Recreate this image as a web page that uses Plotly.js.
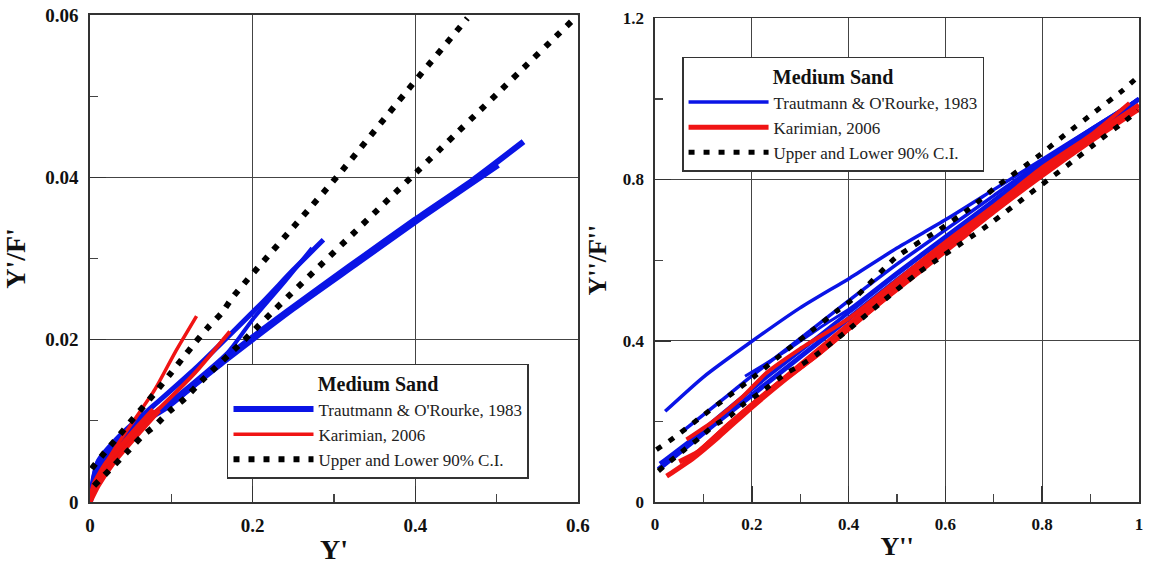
<!DOCTYPE html>
<html>
<head>
<meta charset="utf-8">
<script src="https://cdn.plot.ly/plotly-3.0.1.min.js"></script>
<style>html,body{margin:0;padding:0;background:#fff;}#chart{width:1149px;height:565px;}</style>
</head>
<body>
<div id="chart"></div>
<script>
// ---------- Left panel: Y' vs Y'/F' ----------
const leftBlueA_x = [0, 0.005, 0.01, 0.04, 0.096, 0.17, 0.24, 0.32, 0.4, 0.47, 0.533];
const leftBlueA_y = [0, 0.003, 0.0048, 0.0083, 0.0118, 0.018, 0.0233, 0.0291, 0.0348, 0.0396, 0.0444];
const leftBlueA2_x = [0, 0.01, 0.05, 0.1, 0.17, 0.25, 0.33, 0.41, 0.502];
const leftBlueA2_y = [0, 0.0042, 0.0088, 0.0122, 0.0177, 0.0238, 0.0295, 0.0352, 0.0415];
const leftBlueB_x = [0, 0.01, 0.04, 0.082, 0.13, 0.178, 0.215, 0.25, 0.287];
const leftBlueB_y = [0, 0.005, 0.0085, 0.0122, 0.0165, 0.0212, 0.0249, 0.0286, 0.0323];
const leftBlueB2_x = [0, 0.01, 0.05, 0.1, 0.17, 0.2, 0.24, 0.273];
const leftBlueB2_y = [0, 0.0045, 0.009, 0.0125, 0.0185, 0.0225, 0.0272, 0.0313];
const leftRed1_x = [0, 0.01, 0.03, 0.055, 0.08, 0.105, 0.131];
const leftRed1_y = [0, 0.003, 0.0065, 0.0102, 0.0139, 0.0185, 0.0229];
const leftRed2_x = [0, 0.01, 0.03, 0.06, 0.088, 0.129, 0.172];
const leftRed2_y = [0, 0.0025, 0.0055, 0.0092, 0.0118, 0.0159, 0.021];
const leftRed3_x = [0, 0.01, 0.03, 0.06, 0.085];
const leftRed3_y = [0, 0.002, 0.005, 0.0085, 0.0113];
const leftRed4_x = [0, 0.005, 0.02, 0.05, 0.078];
const leftRed4_y = [0, 0.0022, 0.0048, 0.0083, 0.0114];
const leftUpperCI_x = [0.002, 0.018, 0.035, 0.049, 0.066, 0.082, 0.098, 0.113, 0.129, 0.145, 0.162, 0.176, 0.303, 0.4, 0.464];
const leftUpperCI_y = [0.0041, 0.0061, 0.0081, 0.0098, 0.0118, 0.0137, 0.0157, 0.0176, 0.0196, 0.0215, 0.0233, 0.0253, 0.04, 0.0519, 0.0596];
const leftLowerCI_x = [0.005, 0.045, 0.064, 0.08, 0.098, 0.117, 0.137, 0.188, 0.207, 0.223, 0.4, 0.6];
const leftLowerCI_y = [0.002, 0.0061, 0.0081, 0.0094, 0.0112, 0.0128, 0.0149, 0.0198, 0.0217, 0.0233, 0.0405, 0.06];

// ---------- Right panel: Y'' vs Y''/F'' ----------
const rightBlue1_x = [0.021, 0.1, 0.196, 0.299, 0.403, 0.5, 0.6, 0.7, 0.8, 0.9, 1.0];
const rightBlue1_y = [0.225, 0.31, 0.395, 0.481, 0.556, 0.63, 0.70, 0.775, 0.85, 0.925, 1.0];
const rightBlue2_x = [0.062, 0.148, 0.2, 0.279, 0.403, 0.5, 0.6, 0.7, 0.8, 0.9, 1.0];
const rightBlue2_y = [0.18, 0.262, 0.313, 0.386, 0.502, 0.59, 0.675, 0.76, 0.845, 0.925, 1.0];
const rightBlue3_x = [0.186, 0.265, 0.35, 0.403, 0.5, 0.6, 0.7, 0.8, 0.9, 1.0];
const rightBlue3_y = [0.312, 0.37, 0.44, 0.48, 0.57, 0.66, 0.75, 0.84, 0.92, 1.0];
const rightBlue4_x = [0.007, 0.058, 0.12, 0.2, 0.3, 0.4, 0.5, 0.6, 0.7, 0.8, 0.9, 1.0];
const rightBlue4_y = [0.081, 0.13, 0.19, 0.265, 0.36, 0.455, 0.55, 0.64, 0.73, 0.825, 0.91, 1.0];
const rightBlue5_x = [0.01, 0.07, 0.15, 0.231, 0.3, 0.4, 0.5, 0.6, 0.7, 0.8, 0.9, 1.0];
const rightBlue5_y = [0.095, 0.15, 0.23, 0.31, 0.375, 0.47, 0.565, 0.655, 0.745, 0.835, 0.915, 1.0];
const rightRed1_x = [0.024, 0.08, 0.13, 0.2, 0.27, 0.34, 0.4, 0.5, 0.6, 0.7, 0.8, 0.9, 1.0];
const rightRed1_y = [0.064, 0.11, 0.16, 0.235, 0.305, 0.37, 0.43, 0.53, 0.625, 0.72, 0.81, 0.895, 0.975];
const rightRed2_x = [0.065, 0.12, 0.18, 0.23, 0.3, 0.4, 0.5, 0.6, 0.7, 0.8, 0.9, 0.98];
const rightRed2_y = [0.155, 0.2, 0.26, 0.32, 0.38, 0.455, 0.55, 0.645, 0.735, 0.83, 0.91, 0.99];
const rightRed3_x = [0.05, 0.09, 0.15, 0.22, 0.3, 0.4, 0.5, 0.6, 0.7, 0.8, 0.9, 1.0];
const rightRed3_y = [0.1, 0.125, 0.19, 0.26, 0.34, 0.44, 0.54, 0.635, 0.73, 0.82, 0.905, 0.985];
const rightRed4_x = [0.079, 0.1, 0.16, 0.25, 0.33, 0.45, 0.55, 0.65];
const rightRed4_y = [0.114, 0.135, 0.2, 0.29, 0.36, 0.48, 0.575, 0.67];
const rightUpperCI_x = [0.003, 0.034, 0.093, 0.148, 0.21, 0.265, 0.327, 0.375, 0.416, 0.499, 0.588, 0.65, 0.706, 0.795, 0.85, 0.909, 0.967, 0.998];
const rightUpperCI_y = [0.13, 0.155, 0.209, 0.259, 0.316, 0.37, 0.428, 0.473, 0.51, 0.608, 0.676, 0.728, 0.783, 0.861, 0.914, 0.968, 1.022, 1.055];
const rightLowerCI_x = [0.007, 0.062, 0.093, 0.12, 0.155, 0.182, 0.217, 0.272, 0.303, 0.334, 0.365, 0.396, 0.54, 0.692, 0.76, 0.867, 0.919, 0.96, 0.998];
const rightLowerCI_y = [0.077, 0.131, 0.16, 0.188, 0.213, 0.242, 0.271, 0.32, 0.341, 0.366, 0.395, 0.424, 0.565, 0.69, 0.752, 0.849, 0.898, 0.935, 0.97];

const legendTitle = "Medium Sand";
const seriesNames = ["Trautmann & O'Rourke, 1983", "Karimian, 2006", "Upper and Lower 90% C.I."];
const xTitles = ["Y'", "Y''"];
const yTitles = ["Y'/F'", "Y''/F''"];

const BLUE = '#0a14e6', RED = '#f01414', BLACK = '#000000';
const SERIF = '"Liberation Serif", serif';

function tr(x, y, color, width, dash, xa, ya, name, show, leg) {
  return {x: x, y: y, type: 'scatter', mode: 'lines', xaxis: xa, yaxis: ya,
    line: {color: color, width: width, dash: dash || 'solid', shape: 'spline', smoothing: 0.6},
    name: name, showlegend: show, legend: leg, legendgroup: leg + name, hoverinfo: 'skip'};
}
const DOT = '6px,9px';
const traces = [
  tr(leftBlueA_x, leftBlueA_y, BLUE, 6, null, 'x', 'y', seriesNames[0], true, 'legend'),
  tr(leftBlueA2_x, leftBlueA2_y, BLUE, 5.5, null, 'x', 'y', seriesNames[0], false, 'legend'),
  tr(leftBlueB_x, leftBlueB_y, BLUE, 5, null, 'x', 'y', seriesNames[0], false, 'legend'),
  tr(leftBlueB2_x, leftBlueB2_y, BLUE, 4, null, 'x', 'y', seriesNames[0], false, 'legend'),
  tr(leftRed1_x, leftRed1_y, RED, 3.5, null, 'x', 'y', seriesNames[1], true, 'legend'),
  tr(leftRed2_x, leftRed2_y, RED, 4, null, 'x', 'y', seriesNames[1], false, 'legend'),
  tr(leftRed3_x, leftRed3_y, RED, 5, null, 'x', 'y', seriesNames[1], false, 'legend'),
  tr(leftRed4_x, leftRed4_y, RED, 5, null, 'x', 'y', seriesNames[1], false, 'legend'),
  tr(leftUpperCI_x, leftUpperCI_y, BLACK, 6, DOT, 'x', 'y', seriesNames[2], true, 'legend'),
  tr(leftLowerCI_x, leftLowerCI_y, BLACK, 6, DOT, 'x', 'y', seriesNames[2], false, 'legend'),

  tr(rightBlue1_x, rightBlue1_y, BLUE, 3.5, null, 'x2', 'y2', seriesNames[0], true, 'legend2'),
  tr(rightBlue2_x, rightBlue2_y, BLUE, 3.5, null, 'x2', 'y2', seriesNames[0], false, 'legend2'),
  tr(rightBlue3_x, rightBlue3_y, BLUE, 3, null, 'x2', 'y2', seriesNames[0], false, 'legend2'),
  tr(rightBlue4_x, rightBlue4_y, BLUE, 5, null, 'x2', 'y2', seriesNames[0], false, 'legend2'),
  tr(rightBlue5_x, rightBlue5_y, BLUE, 4, null, 'x2', 'y2', seriesNames[0], false, 'legend2'),
  tr(rightRed1_x, rightRed1_y, RED, 5, null, 'x2', 'y2', seriesNames[1], true, 'legend2'),
  tr(rightRed2_x, rightRed2_y, RED, 4, null, 'x2', 'y2', seriesNames[1], false, 'legend2'),
  tr(rightRed3_x, rightRed3_y, RED, 5, null, 'x2', 'y2', seriesNames[1], false, 'legend2'),
  tr(rightRed4_x, rightRed4_y, RED, 5, null, 'x2', 'y2', seriesNames[1], false, 'legend2'),
  tr(rightUpperCI_x, rightUpperCI_y, BLACK, 5, DOT, 'x2', 'y2', seriesNames[2], true, 'legend2'),
  tr(rightLowerCI_x, rightLowerCI_y, BLACK, 5, DOT, 'x2', 'y2', seriesNames[2], false, 'legend2')
];

function axis(domain, range, dtick, minorDtick, fontSize, title, titleSize, standoff, anchor) {
  return {
    domain: domain, range: range, dtick: dtick, tick0: 0, anchor: anchor,
    showgrid: true, gridcolor: '#444', gridwidth: 1.3, zeroline: false,
    showline: true, mirror: true, linecolor: '#333', linewidth: 1.6,
    ticks: 'inside', ticklen: 16, tickcolor: '#333', tickwidth: 1.6,
    minor: {dtick: minorDtick, ticks: 'inside', ticklen: 8, tickcolor: '#444', tickwidth: 1.2, showgrid: false},
    tickfont: {family: SERIF, size: fontSize, color: '#111', weight: 'bold'},
    ticklabelstandoff: 6,
    title: {text: title, font: {family: SERIF, size: titleSize, color: '#111', weight: 'bold'}, standoff: standoff},
    fixedrange: true
  };
}

function legendCfg(x, y) {
  return {
    x: x, y: y, xanchor: 'left', yanchor: 'top', xref: 'paper', yref: 'paper',
    bgcolor: '#fff', bordercolor: '#333', borderwidth: 1.5,
    font: {family: SERIF, size: 17, color: '#222'},
    title: {text: legendTitle, side: 'top center', font: {family: SERIF, size: 20, color: '#111', weight: 'bold'}},
    itemwidth: 80, tracegroupgap: 0, itemclick: false, itemdoubleclick: false
  };
}

const layout = {
  width: 1149, height: 565,
  margin: {l: 90, r: 10, t: 15, b: 63},
  paper_bgcolor: '#fff', plot_bgcolor: '#fff',
  xaxis: axis([0, 0.4652], [0, 0.6], 0.2, 0.1, 19, xTitles[0], 28, 4, 'y'),
  yaxis: axis([0, 1], [0, 0.06], 0.02, 0.01, 19, yTitles[0], 28, 14, 'x'),
  xaxis2: axis([0.5386, 1], [0, 1], 0.2, 0.1, 17, xTitles[1], 26, 4, 'y2'),
  yaxis2: axis([0, 0.9932], [0, 1.2], 0.4, 0.2, 17, yTitles[1], 26, 8, 'x2'),
  legend: legendCfg(0.1306, 0.2834),
  legend2: legendCfg(0.5644, 0.9138),
  showlegend: true
};

Plotly.newPlot('chart', traces, layout, {displayModeBar: false, staticPlot: true});
</script>
</body>
</html>
